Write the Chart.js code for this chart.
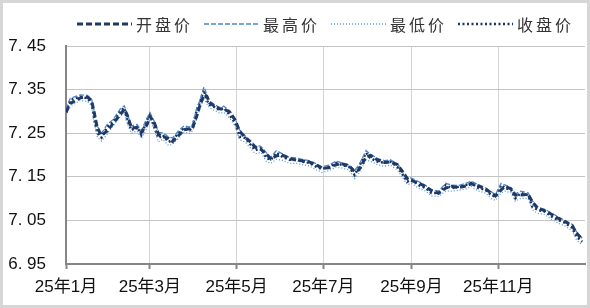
<!DOCTYPE html>
<html><head><meta charset="utf-8">
<script src="https://cdn.jsdelivr.net/npm/chart.js@4.4.1/dist/chart.umd.min.js"></script>
<style>html,body{margin:0;padding:0;background:#fff;}#wrap{width:590px;height:308px;position:relative;}</style>
</head><body><div id="wrap"><canvas id="c" width="590" height="308"></canvas></div>
<script>
// day offsets from 2025-01-01
const days=[0,3,10,15,18,20,22,25,29,33, 38,41,43,46,50,53,57,59,62,65, 68,72,75,79,83,87,89,92,94,97, 99,101,104,108,111,115,119,122,126,129, 133,137,141,144,148,152,157,162,166,171, 176,180,185,190,194,199,203,206,211,214, 219,224,228,233,236,240,243,248,253,257, 262,267,271,276,281,285,290,295,299,302, 306,309,313,316,320,325,328,332,337,342, 346,351,356,359,363];
const openP=[7.298,7.318,7.331,7.333,7.325,7.295,7.262,7.245,7.255,7.272, 7.292,7.305,7.292,7.263,7.262,7.252,7.270,7.288,7.275,7.248, 7.242,7.238,7.231,7.244,7.258,7.260,7.261,7.290,7.312,7.338, 7.335,7.320,7.313,7.306,7.305,7.299,7.280,7.255,7.240,7.232, 7.218,7.213,7.202,7.191,7.198,7.200,7.192,7.188,7.187,7.184, 7.177,7.170,7.171,7.178,7.180,7.175,7.162,7.166,7.195,7.199, 7.189,7.183,7.184,7.178,7.165,7.146,7.141,7.136,7.127,7.118, 7.112,7.124,7.128,7.125,7.129,7.134,7.129,7.122,7.113,7.106, 7.120,7.128,7.122,7.108,7.108,7.110,7.092,7.077,7.072,7.063, 7.055,7.047,7.038,7.021,7.006];
const highP=[7.305,7.330,7.338,7.337,7.328,7.298,7.266,7.250,7.270,7.281, 7.305,7.313,7.295,7.267,7.270,7.256,7.285,7.297,7.278,7.252, 7.251,7.242,7.239,7.255,7.267,7.264,7.270,7.308,7.324,7.356, 7.339,7.324,7.317,7.309,7.312,7.302,7.283,7.258,7.244,7.235, 7.222,7.220,7.205,7.195,7.210,7.203,7.195,7.193,7.190,7.187, 7.180,7.173,7.177,7.186,7.182,7.178,7.165,7.177,7.210,7.202, 7.192,7.187,7.189,7.180,7.168,7.149,7.147,7.139,7.130,7.121, 7.117,7.135,7.131,7.130,7.135,7.140,7.132,7.125,7.116,7.109, 7.135,7.131,7.125,7.111,7.117,7.113,7.095,7.080,7.075,7.066, 7.058,7.050,7.041,7.024,7.009];
const lowP=[7.290,7.312,7.325,7.323,7.312,7.272,7.241,7.232,7.248,7.266, 7.287,7.298,7.272,7.250,7.255,7.238,7.262,7.282,7.258,7.230, 7.236,7.222,7.225,7.238,7.252,7.250,7.255,7.284,7.305,7.330, 7.318,7.308,7.303,7.296,7.298,7.285,7.266,7.235,7.230,7.219, 7.203,7.206,7.185,7.181,7.190,7.188,7.181,7.181,7.178,7.175, 7.166,7.160,7.164,7.172,7.170,7.166,7.146,7.159,7.188,7.186, 7.178,7.174,7.177,7.166,7.152,7.132,7.135,7.124,7.117,7.106, 7.105,7.117,7.117,7.119,7.122,7.128,7.117,7.113,7.100,7.096, 7.113,7.117,7.113,7.094,7.101,7.100,7.074,7.066,7.063,7.051, 7.044,7.037,7.026,7.005,6.994];
const closeP=[7.300,7.326,7.334,7.330,7.319,7.280,7.250,7.240,7.265,7.276, 7.300,7.308,7.280,7.257,7.265,7.246,7.280,7.292,7.265,7.239, 7.246,7.230,7.234,7.250,7.262,7.257,7.265,7.303,7.319,7.349, 7.326,7.315,7.311,7.303,7.308,7.292,7.273,7.242,7.239,7.227, 7.211,7.216,7.193,7.189,7.205,7.196,7.189,7.189,7.185,7.182, 7.173,7.168,7.173,7.182,7.177,7.173,7.154,7.173,7.205,7.193, 7.185,7.182,7.185,7.173,7.159,7.139,7.143,7.131,7.124,7.113, 7.113,7.131,7.124,7.127,7.131,7.136,7.124,7.120,7.108,7.104, 7.131,7.124,7.120,7.101,7.113,7.108,7.081,7.074,7.070,7.058, 7.051,7.044,7.033,7.013,7.001];
const seriesNames=['开盘价','最高价','最低价','收盘价'];
const tickDays=[0,59,120,181,243,304];
const tickLabels=['25年1月','25年3月','25年5月','25年7月','25年9月','25年11月'];
const yTicks=[6.95,7.05,7.15,7.25,7.35,7.45];

const seriesValues=[openP,highP,lowP,closeP];
const styles=[
  {color:'#1f3864',width:3,dash:[6,3]},
  {color:'#4a86c5',width:1.3,dash:[5,2]},
  {color:'#5b9bd5',width:1.3,dash:[1,2]},
  {color:'#1c3461',width:2.5,dash:[2,2.5]}
];
const datasets=seriesNames.map((n,i)=>({
  label:n,
  data:days.map((d,k)=>({x:d,y:seriesValues[i][k]})),
  borderColor:styles[i].color,borderWidth:styles[i].width,borderDash:styles[i].dash,
  pointRadius:0,tension:0,fill:false,backgroundColor:'transparent'
}));

const framePlugin={id:'frame',
  beforeDraw(chart){const c=chart.ctx;c.save();c.fillStyle='#fff';c.fillRect(0,0,chart.width,chart.height);c.restore();},
  afterDraw(chart){
    const c=chart.ctx;c.save();
    c.strokeStyle='#d6d6d6';c.lineWidth=3;c.strokeRect(1.5,1.5,chart.width-3,chart.height-3);
    // legend
    let x=77;const y=24;
    c.font='16px "Noto Sans CJK SC"';c.textBaseline='middle';c.fillStyle='#333';
    if('letterSpacing' in c) c.letterSpacing='3px';
    chart.data.datasets.forEach((ds,i)=>{
      c.beginPath();c.setLineDash(styles[i].dash);c.strokeStyle=styles[i].color;c.lineWidth=styles[i].width;
      c.moveTo(x,y);c.lineTo(x+55,y);c.stroke();
      c.setLineDash([]);
      x+=59;
      c.fillText(ds.label,x,y+1);
      x+=c.measureText(ds.label).width+11;
    });
    c.restore();
  }};

new Chart(document.getElementById('c'),{
  type:'line',
  data:{datasets},
  options:{
    responsive:false,animation:false,
    layout:{padding:{top:46,right:5,left:0,bottom:0}},
    plugins:{legend:{display:false},tooltip:{enabled:false}},
    scales:{
      x:{type:'linear',min:0,max:365,
        afterBuildTicks(s){s.ticks=tickDays.map(v=>({value:v}));},
        afterFit(s){s.height=44;},
        border:{color:'#868686',width:2},
        grid:{color:'#d4d4d4',borderDash:[5,3],lineWidth:1,drawTicks:true,tickLength:5,tickColor:'#868686',tickWidth:2,tickBorderDash:[]},
        ticks:{autoSkip:false,maxRotation:0,padding:8,color:'#111',font:{family:'"Liberation Sans","Noto Sans CJK SC"',size:17},
          callback(v){const i=tickDays.indexOf(v);return i>=0?tickLabels[i]:'';}}
      },
      y:{type:'linear',min:6.95,max:7.45,
        afterBuildTicks(s){s.ticks=yTicks.map(v=>({value:v}));},
        afterFit(s){s.width=66;},
        border:{color:'#868686',width:2},
        grid:{color:'#c4c4c4',borderDash:[6,4],lineWidth:1,drawTicks:false},
        ticks:{padding:20,color:'#111',font:{family:'"Liberation Sans"',size:17},
          callback(v){return v.toFixed(2).replace('.','. ');}}
      }
    }
  },
  plugins:[framePlugin]
});
</script></body></html>
